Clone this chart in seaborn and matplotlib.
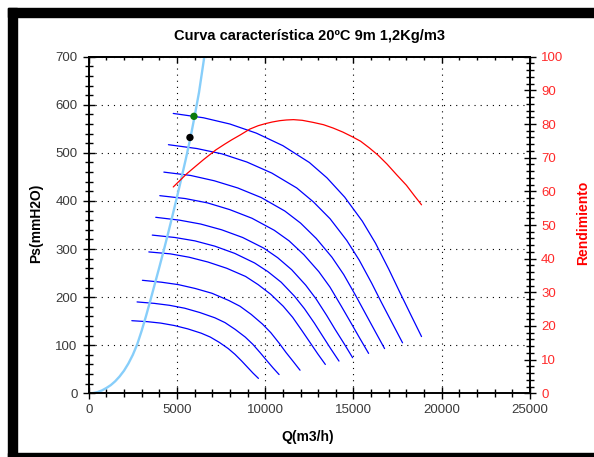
import numpy as np
import pandas as pd
import matplotlib
matplotlib.use("Agg")
import matplotlib.pyplot as plt
import seaborn as sns
from matplotlib.patches import Rectangle
from matplotlib.ticker import MultipleLocator

# Fan curves Ps (mmH2O) vs Q (m3/h), one per speed
q_n1 = [4790, 6500, 8000, 9500, 11000, 12500, 13500, 14500, 15500, 16250, 17000, 17600, 18250, 18855]
p_n1 = [582, 573, 560, 541, 515, 480, 448, 408, 358, 312, 258, 212, 163, 118]
q_n2 = [4517, 6130, 7544, 8959, 10373, 11788, 12731, 13674, 14617, 15324, 16031, 16597, 17210, 17780]
p_n2 = [517, 509, 498, 481, 458, 427, 398, 363, 318, 277, 229, 188, 145, 105]
q_n3 = [4258, 5779, 7112, 8446, 9779, 11113, 12002, 12891, 13780, 14446, 15113, 15646, 16224, 16762]
p_n3 = [460, 453, 442, 427, 407, 379, 354, 322, 283, 247, 204, 168, 129, 93]
q_n4 = [4028, 5467, 6728, 7990, 9251, 10513, 11354, 12195, 13036, 13666, 14297, 14802, 15348, 15857]
p_n4 = [411, 405, 396, 382, 364, 339, 317, 288, 253, 221, 182, 150, 115, 83]
q_n5 = [3798, 5155, 6344, 7534, 8723, 9913, 10706, 11499, 12292, 12886, 13481, 13957, 14472, 14952]
p_n5 = [366, 360, 352, 340, 324, 302, 282, 257, 225, 196, 162, 133, 103, 74]
q_n6 = [3602, 4888, 6016, 7144, 8272, 9400, 10152, 10904, 11656, 12220, 12784, 13235, 13724, 14179]
p_n6 = [329, 324, 317, 306, 291, 271, 253, 231, 202, 176, 146, 120, 92, 67]
q_n7 = [3406, 4622, 5688, 6755, 7821, 8888, 9599, 10310, 11021, 11554, 12087, 12514, 12976, 13406]
p_n7 = [294, 290, 283, 273, 260, 243, 226, 206, 181, 158, 130, 107, 82, 60]
q_n8 = [3042, 4128, 5080, 6033, 6985, 7938, 8573, 9208, 9843, 10319, 10795, 11176, 11589, 11973]
p_n8 = [235, 231, 226, 218, 208, 193, 181, 164, 144, 126, 104, 85, 66, 48]
q_n9 = [2740, 3718, 4576, 5434, 6292, 7150, 7722, 8294, 8866, 9295, 9724, 10067, 10439, 10785]
p_n9 = [190, 187, 183, 177, 168, 157, 147, 133, 117, 102, 84, 69, 53, 39]
q_n10 = [2443, 3315, 4080, 4845, 5610, 6375, 6885, 7395, 7905, 8288, 8670, 8976, 9308, 9616]
p_n10 = [151, 149, 146, 141, 134, 125, 117, 106, 93, 81, 67, 55, 42, 31]

# System curve (light blue)
q_sys = [0, 250, 500, 750, 1000, 1250, 1500, 1750, 2000, 2250, 2500, 2750, 3000, 3250, 3500,
         3750, 4000, 4250, 4500, 4750, 5000, 5250, 5500, 5750, 6000, 6250, 6550]
p_sys = [0, 0.5, 2.5, 6, 11, 17, 25, 35, 47, 62, 80, 102, 130, 161, 194,
         228, 262, 297, 333, 370, 408, 447, 487, 529, 576, 626, 700]

# Efficiency curve (right axis, %)
q_eff = [4790, 5200, 5550, 6000, 6500, 7200, 7700, 8100, 8600, 9130, 9600, 10000, 10400, 10830,
         11200, 11600, 12100, 12700, 13300, 13850, 14400, 14900, 15400, 15900, 16400, 16900,
         17450, 18000, 18450, 18855]
eff = [61.3, 63.4, 65.2, 67.2, 69.4, 72.3, 74.0, 75.3, 76.8, 78.5, 79.5, 80.1, 80.6, 81.0,
       81.2, 81.3, 81.1, 80.5, 79.8, 78.8, 77.6, 76.3, 74.9, 72.9, 70.7, 68.1,
       64.9, 61.8, 58.7, 56.0]

# Operating points
q_green, p_green = [5962], [576]
q_black, p_black = [5736], [532]

curves = [("n1", q_n1, p_n1), ("n2", q_n2, p_n2), ("n3", q_n3, p_n3),
          ("n4", q_n4, p_n4), ("n5", q_n5, p_n5), ("n6", q_n6, p_n6),
          ("n7", q_n7, p_n7), ("n8", q_n8, p_n8), ("n9", q_n9, p_n9),
          ("n10", q_n10, p_n10)]
rows = []
for name, q, p in curves:
    for qi, pi in zip(q, p):
        rows.append((name, qi, pi))
fan = pd.DataFrame(rows, columns=["curva", "Q", "Ps"])

sns.set_theme(style="white")
plt.rcParams['font.family'] = ['Liberation Sans', 'DejaVu Sans']

W, H = 594, 457
fig = plt.figure(figsize=(W / 100, H / 100), dpi=100)
fig.patch.set_facecolor("white")

# black frame around the picture
fig.patches.append(Rectangle((8 / W, 0), 9 / W, (H - 8) / H, transform=fig.transFigure,
                             color="black", zorder=0))
fig.patches.append(Rectangle((8 / W, (H - 17) / H), (W - 8) / W, 9 / H, transform=fig.transFigure,
                             color="black", zorder=0))
fig.patches.append(Rectangle((8 / W, 0), (W - 8) / W, 4 / H, transform=fig.transFigure,
                             color="black", zorder=0))

ax = fig.add_axes([88.7 / W, (H - 393.3) / H, 441.3 / W, 336.6 / H])
ax.set_facecolor("white")

sns.lineplot(data=fan, x="Q", y="Ps", units="curva", estimator=None, sort=False,
             color="#0000ff", linewidth=0.9, ax=ax, legend=False)
sns.lineplot(x=q_sys, y=p_sys, sort=False, color="#87cefa", linewidth=1.7, ax=ax)
sns.scatterplot(x=q_green, y=p_green, color="#0a7a0a", s=28, edgecolor="none", ax=ax, zorder=5)
sns.scatterplot(x=q_black, y=p_black, color="black", s=28, edgecolor="none", ax=ax, zorder=5)

ax.set_xlim(0, 25000)
ax.set_ylim(0, 700)
ax.xaxis.set_major_locator(MultipleLocator(5000))
ax.xaxis.set_minor_locator(MultipleLocator(1000))
ax.yaxis.set_major_locator(MultipleLocator(100))
ax.yaxis.set_minor_locator(MultipleLocator(20))
ax.grid(True, which="major", color="black", linewidth=0.8, linestyle=(0, (1, 4.5)))
ax.tick_params(which="both", direction="inout", color="black", labelcolor="#3a3a3a",
               labelsize=9.5, left=True, bottom=True, right=False, top=False)
ax.tick_params(which="major", length=9, width=1, pad=3.5)
ax.tick_params(which="minor", length=5.5, width=1)
for s in ax.spines.values():
    s.set_color("black")
    s.set_linewidth(1.2)

top = ax.secondary_xaxis("top")
top.xaxis.set_major_locator(MultipleLocator(5000))
top.xaxis.set_minor_locator(MultipleLocator(1000))
top.tick_params(which="both", direction="in", color="black", labeltop=False)
top.tick_params(which="major", length=4.5, width=1)
top.tick_params(which="minor", length=2.5, width=1)
top.spines["top"].set_color("black")
top.spines["top"].set_linewidth(1.2)

ax2 = ax.twinx()
sns.lineplot(x=q_eff, y=eff, sort=False, color="red", linewidth=0.9, ax=ax2)
ax2.set_ylim(0, 100)
ax2.yaxis.set_major_locator(MultipleLocator(10))
ax2.yaxis.set_minor_locator(MultipleLocator(2))
ax2.grid(False)
ax2.tick_params(which="both", direction="inout", color="black", labelcolor="#ff2a2a",
                labelsize=9.5)
ax2.tick_params(which="major", length=9, width=1, pad=3.5)
ax2.tick_params(which="minor", length=5.5, width=1)
for s in ax2.spines.values():
    s.set_color("black")
    s.set_linewidth(1.2)

ax.set_xlabel("Q(m3/h)", fontsize=10, fontweight="bold", color="black")
ax.xaxis.set_label_coords(308 / W, 1 - 436.5 / H, transform=fig.transFigure)
ax.xaxis.label.set_verticalalignment("center")
ax.set_ylabel("Ps(mmH2O)", fontsize=10, fontweight="bold", color="black")
ax.yaxis.set_label_coords(36 / W, 1 - 223 / H, transform=fig.transFigure)
ax.yaxis.label.set_verticalalignment("center")
ax2.set_ylabel("Rendimiento", fontsize=10, fontweight="bold", color="red")
ax2.yaxis.set_label_coords(583 / W, 1 - 223 / H, transform=fig.transFigure)
ax2.yaxis.label.set_verticalalignment("center")

fig.text(309 / W, 1 - 36 / H, "Curva característica 20ºC 9m 1,2Kg/m3", ha="center", va="center",
         fontsize=10.5, fontweight="bold", color="black")

fig.savefig("out.png", dpi=100)
